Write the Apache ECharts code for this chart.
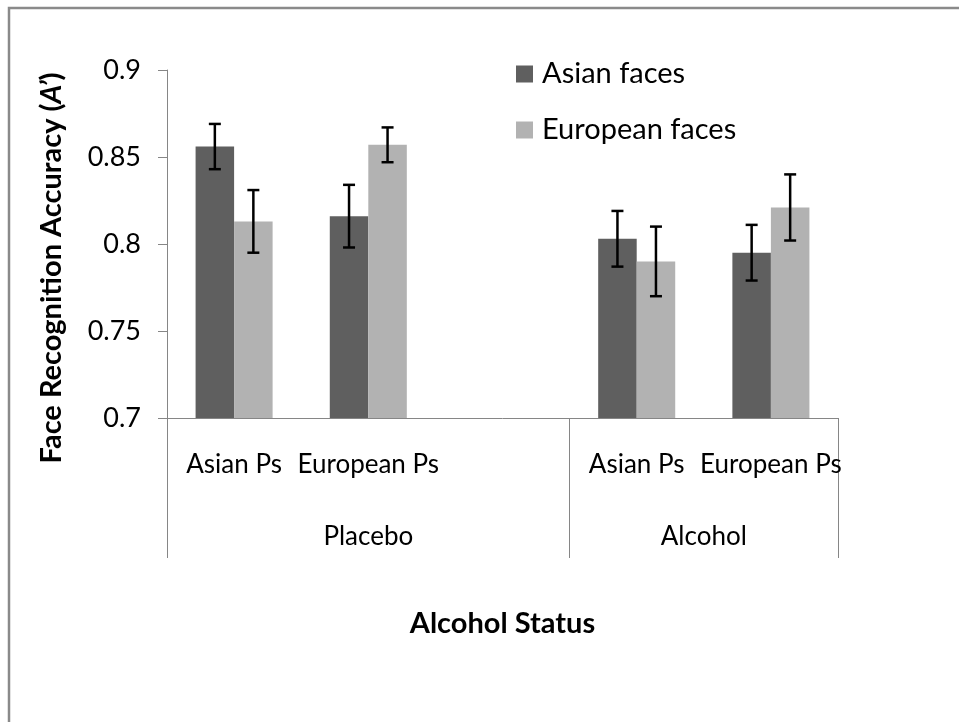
<!DOCTYPE html>
<html>
<head>
<meta charset="utf-8">
<script src="https://cdn.jsdelivr.net/npm/echarts@6/dist/echarts.min.js"></script>
<style>html,body{margin:0;padding:0;background:#fff}#c{width:959px;height:722px}</style>
</head>
<body>
<div id="c"></div>
<script>
// ---- data ----
var categories = ['Asian Ps', 'European Ps', '', 'Asian Ps', 'European Ps'];
var groups = ['Placebo', 'Alcohol'];
var groupSpans = [3, 2];
var seriesNames = ['Asian faces', 'European faces'];
var asianFaces = [0.856, 0.816, null, 0.803, 0.795];
var europeanFaces = [0.813, 0.857, null, 0.790, 0.821];
var asianErr = [0.013, 0.018, null, 0.016, 0.016];
var europeanErr = [0.018, 0.010, null, 0.020, 0.019];
var yTicks = [0.7, 0.75, 0.8, 0.85, 0.9];

// ---- layout/style ----
var FONT = 'Lato';
var barRatio = 0.287;
var colors = ['#5f5f5f', '#b2b2b2'];
var axisColor = '#868686';

var groupCenters = [];
var groupStarts = [];
var acc = 0;
for (var g = 0; g < groups.length; g++) {
  groupStarts.push(acc);
  groupCenters.push(acc + groupSpans[g] / 2);
  acc += groupSpans[g];
}

function errData(vals, errs) {
  var out = [];
  for (var i = 0; i < vals.length; i++) {
    if (vals[i] != null) out.push([i, vals[i], errs[i]]);
  }
  return out;
}
function makeErrRender(sign) {
  return function (params, api) {
    var x = api.value(0), v = api.value(1), e = api.value(2);
    var band = api.size([1, 0])[0];
    var off = sign * band * barRatio / 2;
    var top = api.coord([x, v + e]);
    var bot = api.coord([x, v - e]);
    var cx = top[0] + off;
    var cap = 6;
    var st = { stroke: '#000', lineWidth: 2.5 };
    return {
      type: 'group',
      children: [
        { type: 'line', shape: { x1: cx, y1: top[1], x2: cx, y2: bot[1] }, style: st },
        { type: 'line', shape: { x1: cx - cap, y1: top[1], x2: cx + cap, y2: top[1] }, style: st },
        { type: 'line', shape: { x1: cx - cap, y1: bot[1], x2: cx + cap, y2: bot[1] }, style: st }
      ]
    };
  };
}

var chart = echarts.init(document.getElementById('c'), null, { renderer: 'canvas' });
chart.setOption({
  animation: false,
  backgroundColor: '#fff',
  textStyle: { fontFamily: FONT },
  graphic: [
    { type: 'rect', shape: { x: 9, y: 8, width: 1000, height: 800 },
      style: { fill: 'none', stroke: '#8a8a8a', lineWidth: 2.5 }, silent: true }
  ],
  grid: { left: 167, right: 121, top: 70, bottom: 304, containLabel: false },
  legend: {
    data: seriesNames,
    orient: 'vertical',
    left: 516,
    top: 59,
    padding: 0,
    itemWidth: 17,
    itemHeight: 17,
    itemGap: 26,
    icon: 'rect',
    textStyle: { fontFamily: FONT, fontSize: 29, color: '#000', lineHeight: 30, padding: [0, 0, 0, 4] }
  },
  xAxis: [
    {
      type: 'category',
      data: categories,
      position: 'bottom',
      axisLine: { show: true, lineStyle: { color: axisColor, width: 1 } },
      axisTick: { show: false },
      axisLabel: { interval: 0, margin: 34, fontFamily: FONT, fontSize: 26, color: '#000' },
      name: 'Alcohol Status',
      nameLocation: 'middle',
      nameGap: 191,
      nameTextStyle: { fontFamily: FONT, fontSize: 29, fontWeight: 'bold', color: '#000' }
    },
    {
      type: 'category',
      data: categories,
      position: 'bottom',
      axisLine: { show: false },
      axisTick: {
        show: true, length: 140, inside: false,
        interval: function (index) { return groupStarts.indexOf(index) >= 0; },
        lineStyle: { color: axisColor, width: 1 }
      },
      axisLabel: { show: false }
    },
    {
      type: 'value',
      min: 0,
      max: categories.length,
      interval: 0.5,
      position: 'bottom',
      axisLine: { show: false },
      axisTick: { show: false },
      splitLine: { show: false },
      axisLabel: {
        margin: 106, fontFamily: FONT, fontSize: 26, color: '#000',
        formatter: function (v) {
          for (var k = 0; k < groupCenters.length; k++) {
            if (Math.abs(v - groupCenters[k]) < 1e-6) return groups[k];
          }
          return '';
        }
      }
    }
  ],
  yAxis: {
    type: 'value',
    min: yTicks[0],
    max: yTicks[yTicks.length - 1],
    interval: 0.05,
    axisLine: { show: true, lineStyle: { color: axisColor, width: 1 } },
    axisTick: { show: true, length: 9, lineStyle: { color: axisColor } },
    splitLine: { show: false },
    axisLabel: { margin: 26, fontFamily: FONT, fontSize: 27, color: '#000' },
    name: '{b|Face Recognition Accuracy (}{i|A’}{b|)}',
    nameLocation: 'middle',
    nameRotate: 90,
    nameGap: 101,
    nameTextStyle: {
      padding: [0, 48, 0, 0],
      rich: {
        b: { fontFamily: FONT, fontSize: 29, fontWeight: 'bold', color: '#000' },
        i: { fontFamily: FONT, fontSize: 29, fontWeight: 'bold', fontStyle: 'italic', color: '#000' }
      }
    }
  },
  series: [
    {
      name: seriesNames[0], type: 'bar', xAxisIndex: 0, data: asianFaces,
      barWidth: (barRatio * 100) + '%', barGap: '0%',
      itemStyle: { color: colors[0] }
    },
    {
      name: seriesNames[1], type: 'bar', xAxisIndex: 0, data: europeanFaces,
      barWidth: (barRatio * 100) + '%', barGap: '0%',
      itemStyle: { color: colors[1] }
    },
    {
      name: 'Asian faces SE', type: 'custom', xAxisIndex: 0, z: 10,
      data: errData(asianFaces, asianErr), renderItem: makeErrRender(-1),
      encode: { x: 0, y: 1 }
    },
    {
      name: 'European faces SE', type: 'custom', xAxisIndex: 0, z: 10,
      data: errData(europeanFaces, europeanErr), renderItem: makeErrRender(1),
      encode: { x: 0, y: 1 }
    }
  ]
});
</script>
</body>
</html>
